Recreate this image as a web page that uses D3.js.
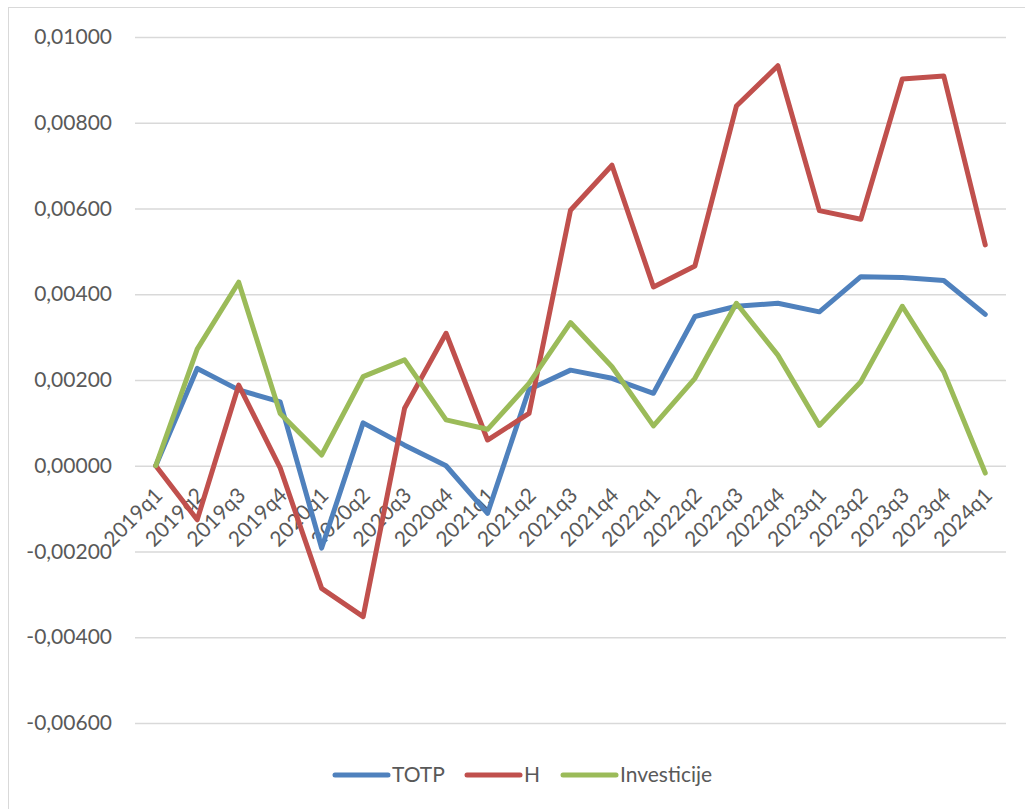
<!DOCTYPE html>
<html>
<head>
<meta charset="utf-8">
<script src="https://cdn.jsdelivr.net/npm/d3@7"></script>
<style>
  html, body { margin: 0; padding: 0; background: #fff; }
  svg { display: block; font-family: Lato, "Open Sans", sans-serif; }
</style>
</head>
<body>
<svg id="chart" width="1025" height="809"></svg>
<script>
// Quarterly categories
const quarters = ["2019q1","2019q2","2019q3","2019q4","2020q1","2020q2","2020q3","2020q4",
  "2021q1","2021q2","2021q3","2021q4","2022q1","2022q2","2022q3","2022q4",
  "2023q1","2023q2","2023q3","2023q4","2024q1"];

// Series values
const totp = [0, 0.00227, 0.00177, 0.00149, -0.00192, 0.00100, 0.00048, 0.00000,
  -0.00111, 0.00178, 0.00223, 0.00204, 0.00169, 0.00348, 0.00372, 0.00379,
  0.00359, 0.00441, 0.00439, 0.00432, 0.00353];
const h = [0, -0.00126, 0.00188, -0.00005, -0.00286, -0.00352, 0.00134, 0.00309,
  0.00060, 0.00122, 0.00596, 0.00701, 0.00417, 0.00466, 0.00839, 0.00933,
  0.00595, 0.00575, 0.00902, 0.00909, 0.00515];
const investicije = [0, 0.00272, 0.00428, 0.00122, 0.00025, 0.00208, 0.00247, 0.00107,
  0.00085, 0.00192, 0.00334, 0.00231, 0.00093, 0.00204, 0.00379, 0.00258,
  0.00094, 0.00196, 0.00372, 0.00219, -0.00017];

const seriesNames = ["TOTP", "H", "Investicije"];
const seriesColors = ["#4f81bd", "#c0504d", "#9bbb59"];
const yTicks = [-0.006, -0.004, -0.002, 0, 0.002, 0.004, 0.006, 0.008, 0.010];

const series = [totp, h, investicije].map((vals, i) => ({
  name: seriesNames[i], color: seriesColors[i], values: vals
}));

const svg = d3.select("#chart");

// Chart area frame
svg.append("rect")
  .attr("x", 8.5).attr("y", 7.5)
  .attr("width", 1040).attr("height", 820)
  .attr("fill", "none").attr("stroke", "#d9d9d9").attr("stroke-width", 1);

const plot = { left: 135, right: 1006, top: 37, bottom: 723 };

const x = d3.scalePoint().domain(quarters)
  .range([plot.left, plot.right]).padding(0.5);
const y = d3.scaleLinear().domain([-0.006, 0.010])
  .range([plot.bottom, plot.top]);

const fmt = v => {
  const s = Math.abs(v).toFixed(5).replace(".", ",");
  return (v < -1e-12 ? "-" : "") + s;
};

// Horizontal gridlines and value labels
const yAxis = d3.axisLeft(y).tickValues(yTicks).tickFormat(fmt)
  .tickSize(-(plot.right - plot.left)).tickPadding(23);
const gy = svg.append("g").attr("transform", `translate(${plot.left},0)`).call(yAxis);
gy.select(".domain").remove();
gy.selectAll(".tick line").attr("stroke", "#d9d9d9").attr("stroke-width", 1.3);
gy.selectAll(".tick text")
  .attr("fill", "#595959").attr("font-size", 21)
  .attr("font-family", "Lato, 'Open Sans', sans-serif");

// Category labels at the zero line, rotated
const xAxis = d3.axisBottom(x).tickSize(0).tickPadding(0);
const gx = svg.append("g").attr("transform", `translate(0,${y(0)})`).call(xAxis);
gx.select(".domain").remove();
gx.selectAll(".tick text")
  .attr("fill", "#595959").attr("font-size", 21)
  .attr("font-family", "Lato, 'Open Sans', sans-serif")
  .attr("text-anchor", "end")
  .attr("dy", null)
  .attr("transform", "translate(4,27) rotate(-45)")
  .attr("dominant-baseline", "middle");

// Series lines
const line = d3.line()
  .x((d, i) => x(quarters[i]))
  .y(d => y(d));

svg.append("g").selectAll("path")
  .data(series).join("path")
  .attr("d", d => line(d.values))
  .attr("fill", "none")
  .attr("stroke", d => d.color)
  .attr("stroke-width", 5)
  .attr("stroke-linejoin", "round")
  .attr("stroke-linecap", "round");

// Legend
const legendY = 775;
const legendX = [335, 467, 563];
const lg = svg.append("g").selectAll("g").data(series).join("g")
  .attr("transform", (d, i) => `translate(${legendX[i]},${legendY})`);
lg.append("line")
  .attr("x1", 0).attr("x2", 53).attr("y1", 0).attr("y2", 0)
  .attr("stroke", d => d.color).attr("stroke-width", 5).attr("stroke-linecap", "round");
lg.append("text")
  .attr("x", 57).attr("y", 0).attr("dy", "0.35em")
  .attr("fill", "#595959").attr("font-size", 21)
  .text(d => d.name);
</script>
</body>
</html>
